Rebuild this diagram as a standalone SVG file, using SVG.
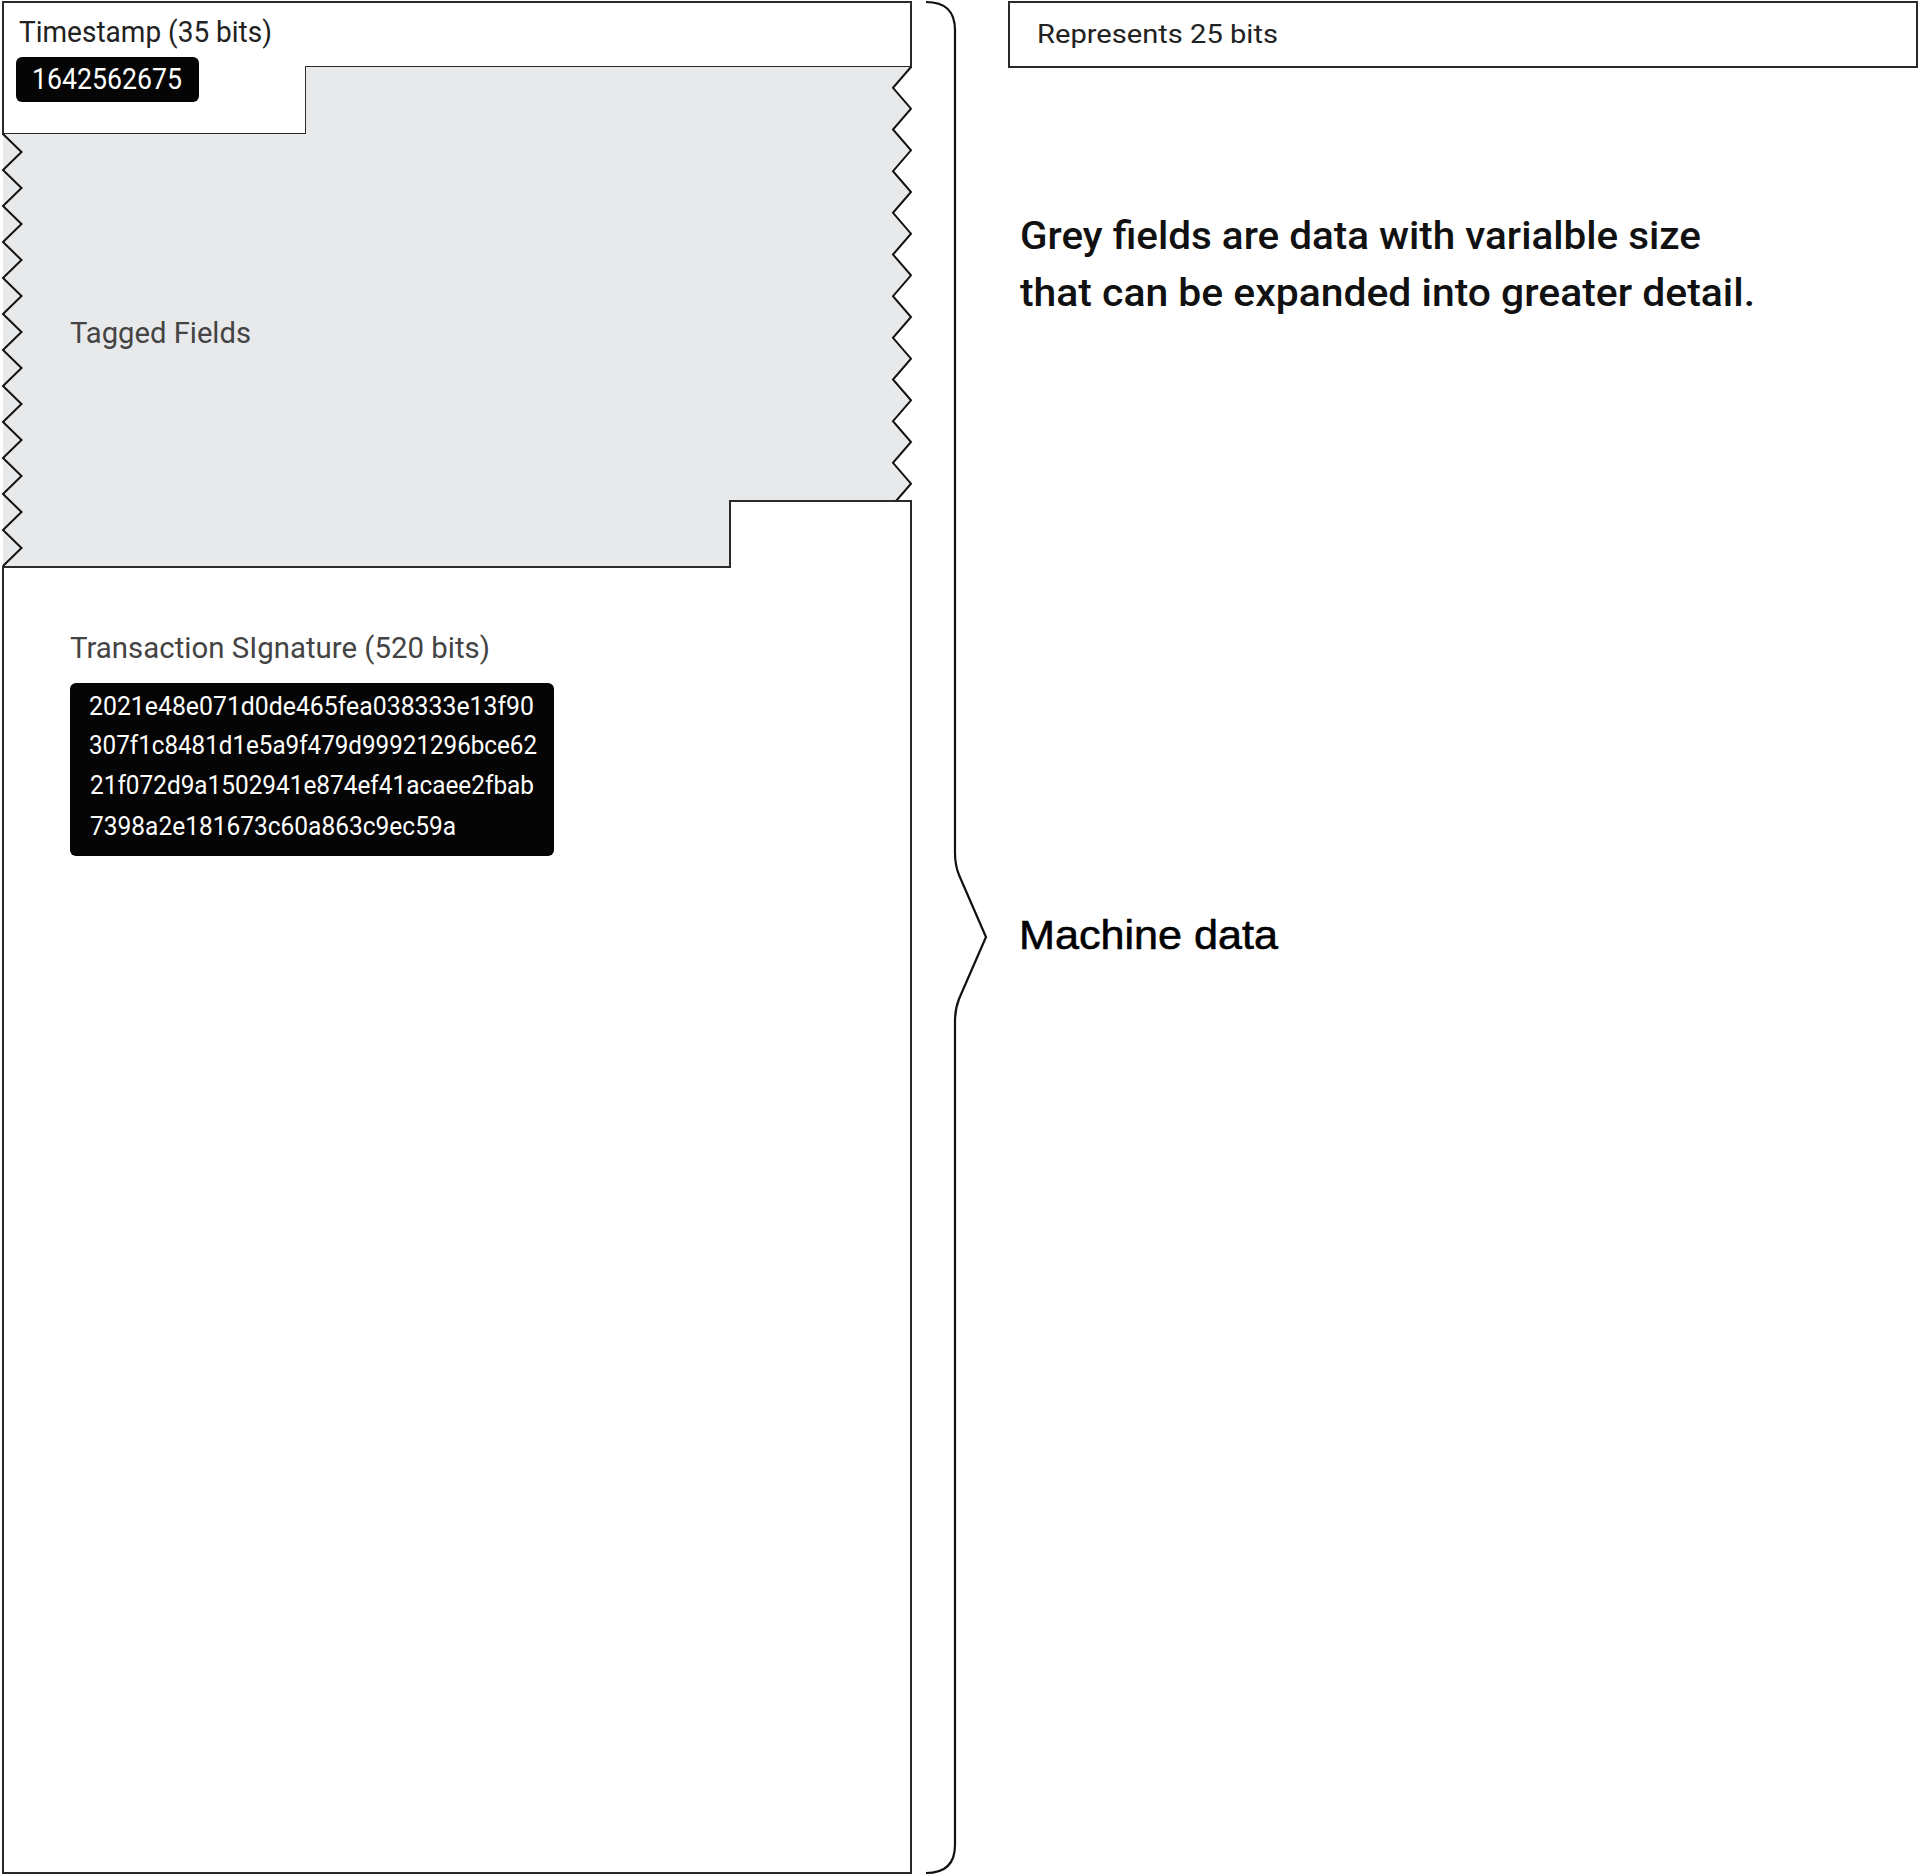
<svg xmlns="http://www.w3.org/2000/svg" width="1920" height="1875" viewBox="0 0 1920 1875">
<style>
  .box { fill: #ffffff; stroke: #2a2a2a; stroke-width: 2; }
  .grey { fill: #e8e9eb; stroke: none; }
  .edge { fill: none; stroke: #333333; stroke-width: 2; }
  .zig { fill: none; stroke: #111111; stroke-width: 2; stroke-linejoin: miter; }
  .badge { fill: #050505; }
  .t { font-family: Roboto, "Liberation Sans", sans-serif; }
  .lbl { font-size: 29px; fill: #222222; }
  .glbl { font-size: 29px; fill: #444444; }
  .val { font-size: 29px; fill: #ffffff; }
  .hex { font-size: 25px; fill: #ffffff; }
  .note { font-size: 38px; fill: #111111; font-weight: 500; }
  .brace { fill: none; stroke: #111111; stroke-width: 2.2; }
</style>

<g id="timestamp">
  <path class="box" d="M3,2 H911 V67 H306 V134 H3 Z"/>
  <text class="t lbl" x="19" y="42" textLength="253" lengthAdjust="spacingAndGlyphs">Timestamp (35 bits)</text>
  <rect class="badge" x="16" y="57" width="183" height="45" rx="6"/>
  <text class="t val" x="32" y="89" textLength="150" lengthAdjust="spacingAndGlyphs">1642562675</text>
</g>

<g id="tagged-fields">
  <path class="grey" d="M3,134 H306 V67 H911 L893,87.8 L911,108.7 L893,129.5 L911,150.3 L893,171.2 L911,192 L893,212.8 L911,233.7 L893,254.5 L911,275.3 L893,296.2 L911,317 L893,337.8 L911,358.7 L893,379.5 L911,400.3 L893,421.2 L911,442 L893,462.8 L911,483.7 L896,501 H730 V567 H3 Z"/>
  <path class="zig" d="M911,67 L893,87.8 L911,108.7 L893,129.5 L911,150.3 L893,171.2 L911,192 L893,212.8 L911,233.7 L893,254.5 L911,275.3 L893,296.2 L911,317 L893,337.8 L911,358.7 L893,379.5 L911,400.3 L893,421.2 L911,442 L893,462.8 L911,483.7 L896,501"/>
  <path class="zig" d="M3,134 L21.5,152 L3,170 L21.5,188 L3,206 L21.5,224 L3,242 L21.5,260 L3,278 L21.5,296 L3,314 L21.5,332 L3,350 L21.5,368 L3,386 L21.5,404 L3,422 L21.5,440 L3,458 L21.5,476 L3,494 L21.5,512 L3,530 L21.5,548 L3,566"/>
  <text class="t glbl" x="70" y="343" textLength="181" lengthAdjust="spacingAndGlyphs">Tagged Fields</text>
</g>

<g id="transaction-signature">
  <path class="box" d="M730,501 H911 V1873 H3 V567 H730 Z"/>
  <text class="t glbl" x="70" y="658" textLength="420" lengthAdjust="spacingAndGlyphs">Transaction SIgnature (520 bits)</text>
  <rect class="badge" x="70" y="683" width="484" height="173" rx="6"/>
  <text class="t hex" x="89" y="715" textLength="445" lengthAdjust="spacingAndGlyphs">2021e48e071d0de465fea038333e13f90</text>
  <text class="t hex" x="89" y="754" textLength="448" lengthAdjust="spacingAndGlyphs">307f1c8481d1e5a9f479d99921296bce62</text>
  <text class="t hex" x="90" y="794" textLength="444" lengthAdjust="spacingAndGlyphs">21f072d9a1502941e874ef41acaee2fbab</text>
  <text class="t hex" x="90" y="835" textLength="366" lengthAdjust="spacingAndGlyphs">7398a2e181673c60a863c9ec59a</text>
</g>

<g id="connectors">
  <path class="brace" d="M926,2 Q955,2 955,30 V853 Q955,865 959,875 L986,937 L959,999 Q955,1009 955,1021 V1845 Q955,1873 926,1873"/>
</g>

<g id="legend">
  <rect class="box" x="1009" y="2" width="908" height="65"/>
  <text class="t lbl" x="1037" y="43" style="font-size:25px" textLength="241" lengthAdjust="spacingAndGlyphs">Represents 25 bits</text>
</g>

<g id="note">
  <text class="t note" x="1020" y="249" textLength="681" lengthAdjust="spacingAndGlyphs">Grey fields are data with varialble size</text>
  <text class="t note" x="1020" y="306" textLength="735" lengthAdjust="spacingAndGlyphs">that can be expanded into greater detail.</text>
</g>

<g id="machine-data">
  <text x="1019" y="949" font-family="'Liberation Sans', Arial, sans-serif" font-size="41" fill="#000000" stroke="#000000" stroke-width="0.6" textLength="259" lengthAdjust="spacingAndGlyphs">Machine data</text>
</g>
</svg>
